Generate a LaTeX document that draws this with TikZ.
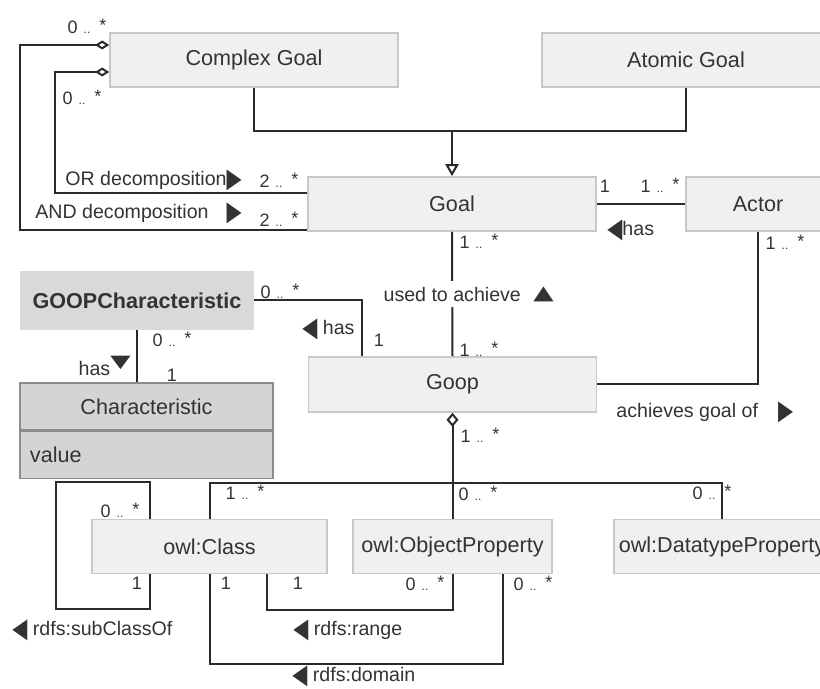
\documentclass[tikz,border=0pt]{standalone}
\usepackage{fontspec}
\setmainfont{Liberation Sans}
\newfontfamily\symfont{DejaVu Sans}
\usetikzlibrary{arrows.meta,positioning}
\definecolor{boxfill}{HTML}{F0F0F0}
\definecolor{boxline}{HTML}{C8C8C8}
\definecolor{goopfill}{HTML}{D9D9D9}
\definecolor{charfill}{HTML}{D4D4D4}
\definecolor{charline}{HTML}{8C8C8C}
\definecolor{boxtext}{HTML}{333333}
\definecolor{linecol}{HTML}{2A2A2A}
\newcommand{\rtri}{\raisebox{-1pt}{\scalebox{1.0}[1.4]{\symfont ▶}}}
\newcommand{\ltri}{\raisebox{-1pt}{\scalebox{1.0}[1.4]{\symfont ◀}}}
\newcommand{\utri}{\scalebox{1.35}[1.0]{\symfont ▲}}
\newcommand{\dtri}{\scalebox{1.35}[0.9]{\symfont ▼}}
\newcommand{\mlt}[2]{#1\hspace{3pt}{\fontsize{6}{6}\selectfont..}\hspace{4.5pt}\raisebox{1pt}{#2}}
\tikzset{
  cls/.style={shape=rectangle, draw=boxline, fill=boxfill, line width=0.8pt, minimum height=27pt, inner sep=2pt, font=\fontsize{10.8}{13}\selectfont, text=boxtext},
  mult/.style={font=\fontsize{9}{10}\selectfont, text=boxtext, inner sep=0pt},
  lbl/.style={font=\fontsize{9.8}{12}\selectfont, text=boxtext, inner sep=0pt},
  conn/.style={line width=1pt, draw=linecol},
}

\begin{document}
\begin{tikzpicture}[x=0.5pt,y=-0.5pt]
    \useasboundingbox (0,0) rectangle (820,689);
    % create the nodes
    \node (cgoal)[cls, minimum width=144pt] at (254,60) {Complex Goal};
    \node (agoal)[cls, minimum width=144pt] at (686,60) {Atomic Goal};
    \node (goal)[cls, minimum width=144pt] at (452,204) {Goal};
    \node (actor)[cls, minimum width=72pt] at (758,204) {Actor};
    \node (goopchar)[cls, fill=goopfill, draw=goopfill, minimum width=116pt, minimum height=28.5pt, font=\fontsize{10.8}{13}\selectfont\bfseries] at (137,300.5) {GOOPCharacteristic};
    \node (goop)[cls, minimum width=144pt, minimum height=27.5pt] at (452.5,384.5) {Goop};
    \node (chartitle)[cls, fill=charfill, draw=charline, text width=116.5pt, inner xsep=5pt, align=center, minimum height=23.5pt] at (146.5,406.5) {Characteristic};
    \node (charvalue)[cls, fill=charfill, draw=charline, text width=116.5pt, inner xsep=5pt, align=left, minimum height=23.5pt, below=0pt of chartitle] {value};
    \node (owlclass)[cls, minimum width=117.5pt] at (209.5,546.5) {owl:Class};
    \node (objprop)[cls, minimum width=99.5pt] at (452.5,546.5) {owl:ObjectProperty};
    \node (dtprop)[cls, minimum width=108pt] at (722,546.5) {owl:DatatypeProperty};
    \coordinate (gjoin) at (452,131);
    \coordinate (hub) at (452,483);
    % connect the nodes
    \draw[conn] (cgoal.south) |- (gjoin) -| (agoal.south);
    \draw[conn,-{Triangle[open,length=6pt,width=6.5pt]}] (gjoin) -- (goal.north);
    \draw[conn,{Diamond[open,length=7pt,width=4.5pt]}-] ([yshift=7.5pt]cgoal.west) -| (20,230) -- ([yshift=-13pt]goal.west);
    \draw[conn,{Diamond[open,length=7pt,width=4.5pt]}-] ([yshift=-6pt]cgoal.west) -| (55,193) -- ([yshift=5.5pt]goal.west);
    \draw[conn] (goal.east) -- (actor.west);
    \draw[conn] (goal.south) -- node[lbl, fill=white, inner ysep=3pt] (used) {used to achieve} (goop.north);
    \draw[conn] (actor.south) |- (goop.east);
    \draw[conn] (goopchar.east) -| ([xshift=27pt]goop.north west);
    \draw[conn] (goopchar.south) -- (goopchar.south |- chartitle.north);
    \draw[conn,{Diamond[open,length=7pt,width=6pt]}-] (goop.south) -- (objprop.north);
    \draw[conn] (owlclass.north) |- (hub) -| (dtprop.north);
    \draw[conn] ([xshift=29.5pt]owlclass.north west) -- ++(0,-37) -| (56,609) -| ([xshift=29.5pt]owlclass.south west);
    \draw[conn] ([xshift=88pt]owlclass.south west) -- ++(0,36) -| (objprop.south);
    \draw[conn] (owlclass.south) -- ++(0,90) -| ([xshift=-25pt]objprop.south east);
    % labels
    \node[mult] (m1) at (87,26) {\mlt{0}{*}};
    \node[mult] (m2) at (82,97) {\mlt{0}{*}};
    \node[lbl, anchor=west] (ordec) at (65,180) {OR decomposition\rtri};
    \node[mult] (m3) at (279,180) {\mlt{2}{*}};
    \node[lbl, anchor=west] (anddec) at (35,213) {AND decomposition\hspace{9pt}\rtri};
    \node[mult] (m4) at (279,219) {\mlt{2}{*}};
    \node[mult] (m5) at (605,186) {1};
    \node[mult] (m6) at (660,185) {\mlt{1}{*}};
    \node[lbl, anchor=west] (hasact) at (607,230) {\ltri has};
    \node[lbl, right=5.5pt of used] (usedtri) {\utri};
    \node[mult] (m7) at (479,241) {\mlt{1}{*}};
    \node[mult] (m8) at (479,349) {\mlt{1}{*}};
    \node[mult] (m9) at (785,242) {\mlt{1}{*}};
    \node[lbl, anchor=west] (achv) at (616,412) {achieves goal of\hspace{10pt}\rtri};
    \node[mult] (m10) at (280,291) {\mlt{0}{*}};
    \node[lbl, anchor=west] (hasgc) at (302,329) {\ltri\ has};
    \node[mult] (m11) at (379,340) {1};
    \node[lbl, anchor=east] (haschar) at (131,366) {has\raisebox{4pt}{\dtri}};
    \node[mult] (m12) at (172,339) {\mlt{0}{*}};
    \node[mult] (m13) at (172,375) {1};
    \node[mult] (m14) at (480,435) {\mlt{1}{*}};
    \node[mult] (m15) at (245,492) {\mlt{1}{*}};
    \node[mult] (m16) at (478,493) {\mlt{0}{*}};
    \node[mult] (m17) at (712,492) {\mlt{0}{*}};
    \node[mult] (m18) at (120,510) {\mlt{0}{*}};
    \node[mult] (m19) at (137,583) {1};
    \node[lbl, anchor=west] (subcl) at (12,630) {\ltri\ rdfs:subClassOf};
    \node[mult] (m20) at (298,583) {1};
    \node[mult] (m21) at (425,583) {\mlt{0}{*}};
    \node[lbl, anchor=west] (rng) at (293,630) {\ltri\ rdfs:range};
    \node[mult] (m22) at (226,583) {1};
    \node[mult] (m23) at (533,583) {\mlt{0}{*}};
    \node[lbl, anchor=west] (dom) at (292,676) {\ltri\ rdfs:domain};
\end{tikzpicture}
\end{document}
